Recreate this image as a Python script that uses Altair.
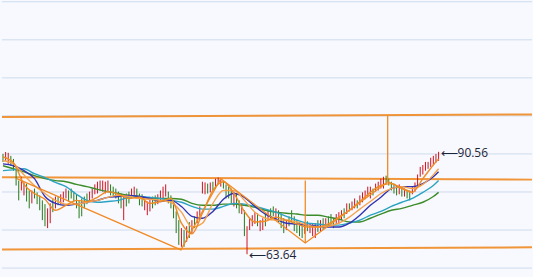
import altair as alt
import pandas as pd

# ---------------- data ----------------
highs = [90.0, 90.5, 90.3, 89.5, 88.7, 86.1, 83.0, 84.0, 82.5, 82.2,
         80.4, 80.4, 80.9, 79.9, 79.1, 77.8, 76.8, 75.7, 77.0, 78.3,
         78.8, 78.8, 79.4, 80.1, 80.9, 80.4, 80.9, 80.1, 79.4, 77.8,
         78.3, 78.8, 79.6, 80.1, 80.9, 82.0, 82.7, 83.0, 83.0, 82.7,
         83.0, 82.0, 81.4, 80.9, 80.1, 79.6, 78.8, 79.6, 80.1, 80.9,
         81.4, 80.9, 79.6, 79.4, 78.3, 77.5, 78.3, 78.8, 79.1, 79.4,
         80.4, 81.4, 82.0, 80.1, 79.1, 77.8, 74.9, 72.6, 70.5, 70.0,
         71.0, 72.1, 72.6, 73.6, 74.9, 76.2, 82.7, 82.5, 82.2, 82.5,
         82.7, 83.5, 83.8, 83.5, 82.7, 82.0, 81.4, 80.9, 80.1, 79.6,
         77.8, 77.0, 75.2, 71.0, 73.1, 73.9, 74.7, 74.4, 72.6, 73.1,
         74.4, 75.2, 75.7, 76.2, 75.7, 75.2, 74.4, 73.1, 72.6, 73.6,
         75.2, 73.6, 72.6, 71.8, 71.8, 71.8, 72.3, 71.8, 71.8, 71.8,
         72.6, 72.6, 73.1, 73.1, 73.6, 74.2, 73.1, 74.2, 74.7, 75.2,
         75.7, 77.0, 77.0, 77.5, 78.3, 77.8, 79.1, 79.9, 80.4, 81.4,
         81.4, 80.9, 82.2, 82.7, 83.5, 84.0, 84.3, 83.5, 82.7, 82.2,
         81.7, 82.0, 81.4, 80.9, 80.4, 80.4, 81.4, 82.5, 84.6, 86.6,
         87.1, 87.9, 87.9, 89.0, 89.5, 90.0, 90.56]

lows = [87.9, 88.2, 87.4, 86.9, 85.6, 81.7, 77.8, 80.4, 79.1, 77.5,
        75.7, 77.0, 78.3, 76.8, 75.2, 72.6, 71.0, 70.5, 71.8, 74.7,
        75.7, 76.5, 76.8, 77.3, 78.3, 77.5, 78.3, 77.5, 75.7, 73.1,
        73.6, 75.7, 76.8, 77.5, 78.3, 79.4, 79.6, 80.4, 80.1, 79.6,
        79.9, 79.1, 78.8, 78.3, 77.0, 75.7, 72.6, 76.2, 77.0, 78.3,
        78.8, 78.3, 76.5, 76.2, 75.2, 73.9, 74.9, 75.7, 76.5, 76.8,
        77.5, 78.3, 78.8, 77.0, 75.7, 73.1, 69.2, 66.1, 65.6, 65.6,
        66.9, 67.9, 69.0, 70.5, 71.8, 72.6, 79.6, 79.4, 79.6, 79.9,
        80.4, 80.9, 82.0, 81.4, 80.9, 78.3, 78.3, 77.0, 76.2, 75.7,
        74.4, 74.2, 68.4, 63.64, 70.0, 71.0, 71.6, 71.0, 69.7, 70.0,
        71.0, 72.6, 73.1, 73.6, 72.6, 72.1, 70.5, 69.2, 70.0, 71.0,
        72.1, 69.7, 69.2, 68.4, 67.9, 69.0, 69.7, 69.2, 68.4, 67.9,
        69.5, 69.7, 70.0, 70.5, 71.0, 71.6, 70.5, 71.6, 71.6, 72.6,
        73.1, 74.2, 74.9, 75.2, 75.7, 75.7, 76.5, 77.3, 78.1, 78.8,
        78.3, 79.1, 80.1, 80.4, 80.9, 80.9, 82.0, 81.7, 80.4, 79.6,
        79.1, 79.4, 78.8, 78.8, 78.3, 77.8, 79.4, 80.1, 81.4, 84.0,
        84.6, 85.6, 86.1, 86.6, 87.1, 87.7, 88.2]

# R = up (red), G = down (green)
direction_rows = ["GRRGGGGRRG", "GRGGGGGRRG", "RGRRRGGGGG", "GGGRRRRRRR",
                  "RGGGGGRGGR", "RGGGRRRGGR", "RRRGGGGGRG", "RGRGRRRRGR",
                  "GRRRGGGGRG", "GRGRRRRGRR", "GRGGRGGGRG", "GGGGGRGRRR",
                  "GRGRGGGRRR", "GRGRRGRRRR", "RGRRRRGGGG", "GRGRGGRRRR",
                  "RRRRRRR"]

ma_index = [0, 4, 8, 12, 16, 20, 24, 28, 32, 36, 40, 44, 48, 52, 56, 60, 64,
            68, 72, 76, 80, 84, 88, 92, 96, 100, 104, 108, 112, 116, 120, 124,
            128, 132, 136, 140, 144, 148, 152, 156, 160, 164, 166]
ma5 = [89.2, 87.7, 82.0, 79.6, 78.1, 75.2, 76.5, 77.8, 77.5, 78.6, 80.1, 79.4,
       78.3, 78.6, 77.0, 77.5, 78.3, 71.8, 69.0, 74.4, 80.4, 82.7, 79.6, 74.9,
       72.1, 72.3, 73.4, 72.6, 71.6, 70.8, 70.8, 71.6, 73.4, 75.2, 77.5, 79.9,
       81.7, 82.2, 80.9, 79.9, 83.5, 87.1, 88.7]
ma10 = [88.2, 87.4, 84.5, 81.7, 79.6, 77.8, 76.8, 76.8, 77.3, 77.8, 78.6, 79.1,
        78.8, 78.3, 78.1, 77.8, 77.3, 74.7, 70.8, 71.8, 77.0, 80.4, 80.4, 77.8,
        74.7, 73.1, 72.6, 72.6, 72.1, 71.3, 70.8, 71.0, 71.8, 73.4, 75.5, 77.5,
        79.6, 80.9, 81.4, 80.9, 82.0, 84.5, 86.1]
ma20 = [87.4, 86.9, 85.6, 83.5, 78.8, 77.0, 76.5, 76.8, 77.3, 77.8, 78.6, 78.8,
        79.1, 78.8, 78.3, 77.5, 77.8, 76.2, 73.6, 73.1, 74.9, 78.1, 79.6, 78.6,
        76.2, 74.2, 72.9, 71.8, 71.6, 71.3, 71.0, 70.8, 70.8, 71.8, 73.9, 76.5,
        78.6, 80.9, 81.4, 81.4, 82.2, 84.0, 85.3]
ma30 = [85.6, 85.8, 86.1, 84.8, 83.8, 82.5, 81.4, 79.4, 77.8, 77.3, 77.5, 77.8,
        78.6, 78.8, 78.6, 78.3, 77.8, 77.3, 76.2, 75.5, 75.5, 76.2, 77.0, 76.8,
        76.2, 75.5, 74.7, 73.6, 72.6, 71.8, 71.6, 71.3, 71.3, 71.8, 72.6, 73.9,
        74.9, 76.2, 77.3, 78.3, 79.9, 81.7, 83.0]
ma60 = [86.9, 86.1, 85.3, 84.3, 83.5, 83.0, 82.7, 82.0, 81.4, 80.7, 80.1, 79.6,
        79.1, 78.8, 78.3, 78.3, 78.3, 78.1, 77.0, 76.5, 76.5, 76.8, 76.8, 76.5,
        76.0, 75.2, 74.7, 74.4, 74.2, 73.9, 73.9, 73.4, 72.9, 72.1, 72.1, 73.1,
        74.2, 75.2, 75.7, 76.5, 77.3, 78.8, 79.9]

# channel lines (bar index, price)
channel_names = ["upper", "upper", "middle", "middle", "lower", "lower"]
channel_idx = [-0.38, 201.6, -0.38, 201.6, -0.38, 201.6]
channel_val = [99.74, 100.39, 83.9, 83.25, 64.88, 65.45]

# zigzag drawing
zig_idx = [5.3, 67.8, 83.0, 115.2, 146.7, 155.8]
zig_val = [83.5, 64.8, 83.5, 66.6, 82.7, 79.9]

# vertical drawing strokes
spike_idx = [115.2, 146.6]
spike_top = [83.0, 100.1]
spike_bot = [66.6, 82.7]

grid_values = [60, 70, 80, 90, 100, 110, 120, 130]

label_idx = [166, 93]
label_val = [90.56, 63.64]
label_txt = ["\u27f590.56", "\u27f563.64"]

# ---------------- build ----------------
RED = "#d0101c"
GREEN = "#237a17"
ORANGE = "#f08a24"

x_scale = alt.Scale(domain=[-0.38, 201.6], nice=False, zero=False)
y_scale = alt.Scale(domain=[57.86, 130.26], nice=False, zero=False)

bars = pd.DataFrame({
    "i": list(range(len(highs))),
    "high": highs,
    "low": lows,
    "dir": list("".join(direction_rows)),
})

ma_rows = []
for name, vals in [("MA60", ma60), ("MA30", ma30), ("MA20", ma20),
                   ("MA10", ma10), ("MA5", ma5)]:
    for k, v in zip(ma_index, vals):
        ma_rows.append({"name": name, "i": k, "v": v})
ma_df = pd.DataFrame(ma_rows)

chan_df = pd.DataFrame({"name": channel_names, "i": channel_idx, "v": channel_val})
zig_df = pd.DataFrame({"i": zig_idx, "v": zig_val, "o": list(range(len(zig_idx)))})
spike_df = pd.DataFrame({"i": spike_idx, "top": spike_top, "bot": spike_bot})
grid_df = pd.DataFrame({"v": grid_values})
label_df = pd.DataFrame({"i": label_idx, "v": label_val, "t": label_txt})

X = alt.X("i:Q", scale=x_scale, axis=None)

grid = alt.Chart(grid_df).mark_rule(color="#cddbec", strokeWidth=1).encode(
    y=alt.Y("v:Q", scale=y_scale, axis=None)
)

channels = alt.Chart(chan_df).mark_line(color=ORANGE, strokeWidth=2, opacity=0.9, clip=True).encode(
    x=X, y=alt.Y("v:Q", scale=y_scale, axis=None), detail="name:N"
)

bar_layer = alt.Chart(bars).mark_rule(strokeWidth=1).encode(
    x=X,
    y=alt.Y("high:Q", scale=y_scale, axis=None),
    y2="low:Q",
    color=alt.Color("dir:N", scale=alt.Scale(domain=["R", "G"], range=[RED, GREEN]), legend=None),
)

ma_layer = alt.Chart(ma_df).mark_line(strokeWidth=1.4, interpolate="monotone").encode(
    x=X,
    y=alt.Y("v:Q", scale=y_scale, axis=None),
    stroke=alt.Stroke("name:N", scale=alt.Scale(
        domain=["MA60", "MA30", "MA20", "MA10", "MA5"],
        range=["#3c8c2a", "#2aa3c2", "#3232b4", "#f5a24e", "#f08a24"]), legend=None),
    order=alt.Order("i:Q"),
)

zig = alt.Chart(zig_df).mark_line(color=ORANGE, strokeWidth=1.3).encode(
    x=X, y=alt.Y("v:Q", scale=y_scale, axis=None), order="o:Q"
)

spikes = alt.Chart(spike_df).mark_rule(color=ORANGE, strokeWidth=1.3).encode(
    x=X, y=alt.Y("top:Q", scale=y_scale, axis=None), y2="bot:Q"
)

labels = alt.Chart(label_df).mark_text(
    align="left", baseline="middle", dx=2, dy=1, fontSize=12,
    font="Open Sans", color="#1c2536"
).encode(x=X, y=alt.Y("v:Q", scale=y_scale, axis=None), text="t:N")

chart = alt.layer(grid, channels, bar_layer, ma_layer, zig, spikes, labels).resolve_scale(
    color="independent", stroke="independent"
).properties(
    width=533, height=277, padding=0, background="#f8f9fe"
).configure_view(stroke=None)

chart.save("out.html", embed_options={"renderer": "svg", "actions": False})
